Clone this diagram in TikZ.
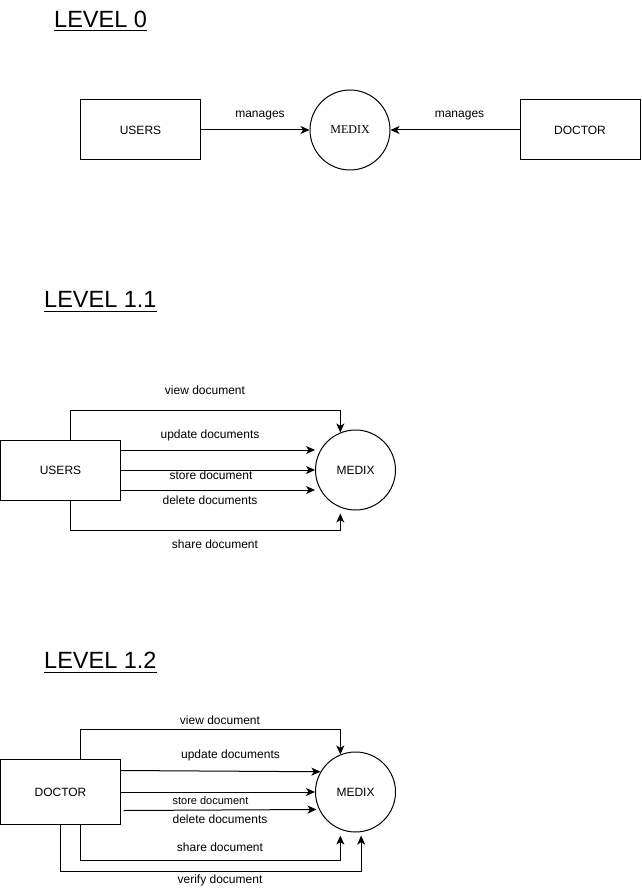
\documentclass[tikz,border=0pt]{standalone}
\usepackage{fontspec}
\setmainfont{Liberation Sans}
\newfontfamily\medixserif{Liberation Serif}
\usetikzlibrary{arrows.meta,calc}
\begin{document}
\begin{tikzpicture}[x=1pt,y=-1pt,
  entity/.style={draw, line width=1pt, minimum width=120pt, minimum height=60pt,
    inner sep=0pt, font=\fontsize{12}{14}\selectfont},
  proc/.style={draw, circle, line width=1pt, minimum size=80pt, inner sep=0pt,
    font=\fontsize{12}{14}\selectfont},
  flow/.style={line width=1pt, -{Stealth[length=9pt,width=8pt,inset=2.5pt]}},
  lbl/.style={font=\fontsize{12}{14}\selectfont, inner sep=0pt},
  heading/.style={font=\fontsize{23.5}{28}\selectfont, anchor=base west, inner sep=0pt},
  uline/.style={line width=1.4pt}]
\useasboundingbox (0,0) rectangle (641,890);

% ---------------- Level 0 ----------------
\node[heading] (t0) at (54,27.5) {LEVEL 0};
\draw[uline] ($(t0.base west)+(0,3)$) -- ($(t0.base east)+(0,3)$);

\node[entity] (u0) at (140.5,130) {USERS};
\node[proc, font=\medixserif\fontsize{12}{14}\selectfont] (m0) at (350,130) {MEDIX};
\node[entity] (d0) at (580,130) {DOCTOR};

\draw[flow] (u0) -- (m0);
\draw[flow] (d0) -- (m0);
\node[lbl] (l0a) at (260,116) {manages};
\node[lbl] (l0b) at (459.5,116) {manages};

% ---------------- Level 1.1 ----------------
\node[heading] (t1) at (44,307.5) {LEVEL 1.1};
\draw[uline] ($(t1.base west)+(0,4)$) -- ($(t1.base east)+(0,4)$);

\node[entity] (u1) at (60.5,470) {USERS};
\node[proc] (m1) at (355.5,470) {MEDIX};

\draw[flow] ($(u1.north)+(10,0)$) -- ++(0,-29.5) -| (m1.112);
\draw[flow] ($(u1.east)+(0,-20)$) -- ($(m1.west)+(0,-20)$);
\draw[flow] (u1) -- (m1);
\draw[flow] ($(u1.east)+(0,20)$) -- ($(m1.west)+(0,20)$);
\draw[flow] ($(u1.south)+(10,0)$) -- ++(0,30) -| ($(m1.248)+(0,6)$);

\node[lbl] (l1a) at (205,390.5) {view document};
\node[lbl] (l1b) at (210,435.5) {update documents};
\node[lbl] (l1c) at (211,475.5) {store document};
\node[lbl] (l1d) at (210,500) {delete documents};
\node[lbl] (l1e) at (215,544.5) {share document};

% ---------------- Level 1.2 ----------------
\node[heading] (t2) at (44,668.5) {LEVEL 1.2};
\draw[uline] ($(t2.base west)+(0,4)$) -- ($(t2.base east)+(0,4)$);

\node[entity, minimum height=65pt] (d2) at (60.5,792) {DOCTOR};
\node[proc] (m2) at (355.5,792) {MEDIX};

\draw[flow] ($(d2.north)+(20,0)$) -- ++(0,-29.5) -| (m2.112);
\draw[flow] ($(d2.east)+(0,-21.5)$) -- (m2.150);
\draw[flow] (d2) -- (m2);
\draw[flow] ($(d2.east)+(2.5,18.5)$) -- ($(m2.west)+(1.5,17.5)$);
\draw[flow] ($(d2.south)+(20,0)$) -- ++(0,35) -| ($(m2.248)+(0,6)$);
\draw[flow] (d2.south) -- ++(0,46) -| ($(m2.278)+(0,3.5)$);

\node[lbl] (l2a) at (220,720.5) {view document};
\node[lbl] (l2b) at (230.5,755.5) {update documents};
\node[lbl, font=\fontsize{11}{13}\selectfont] (l2c) at (210.5,800.5) {store document};
\node[lbl] (l2d) at (220,819.5) {delete documents};
\node[lbl] (l2e) at (220,847.5) {share document};
\node[lbl] (l2f) at (220,880.5) {verify document};
\end{tikzpicture}
\end{document}
